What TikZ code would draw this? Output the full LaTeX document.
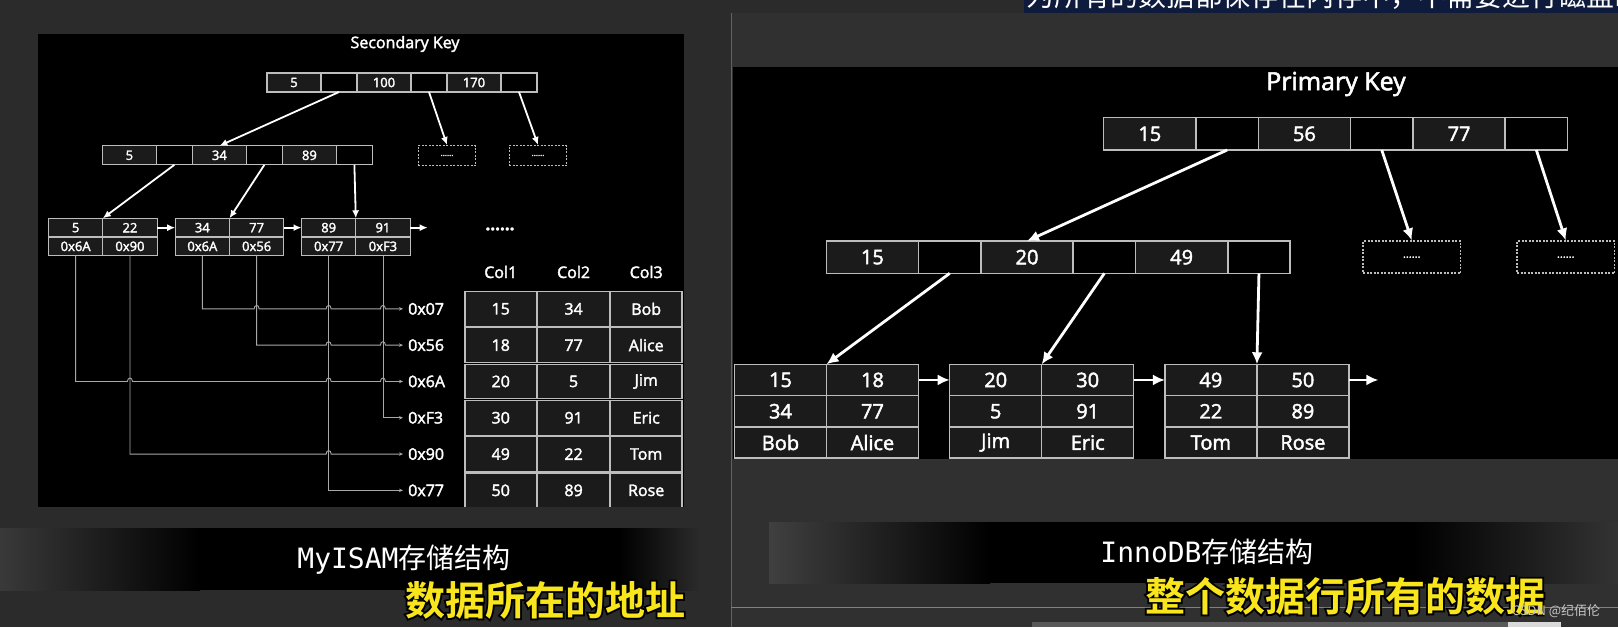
\documentclass[tikz,border=0pt]{standalone}
\usepackage{fontspec}
\setmainfont{Open Sans}[FakeBold=2.2]
\newfontfamily\cjk{Noto Sans CJK SC}
\newfontfamily\cjkb{Noto Sans CJK SC Bold}
\newfontfamily\cjkedge{Noto Sans CJK SC Bold}[FakeBold=9]
\newfontfamily\mono{DejaVu Sans Mono}
\usetikzlibrary{positioning,arrows.meta}
\definecolor{bggray}{HTML}{2B2B2B}
\definecolor{panelgray}{HTML}{303030}
\definecolor{cellline}{HTML}{BDBDBD}
\definecolor{cellfill}{HTML}{1B1B1B}
\definecolor{linkgray}{HTML}{A8A8A8}
\definecolor{edgeblue}{HTML}{2A6DB5}
\definecolor{barblue}{HTML}{1CA0E0}
\definecolor{navy}{HTML}{0E1B3C}
\definecolor{subyellow}{HTML}{F8E51C}

\begin{document}
\begin{tikzpicture}[x=1pt, y=-1pt,
        key/.style={rectangle, draw=cellline, fill=cellfill, line width=1.1pt, minimum width=54pt, minimum height=19pt, inner sep=0pt, outer sep=0pt, text=white, font=\fontsize{13}{13}\selectfont},
        ptr/.style={key, fill=black, minimum width=36pt},
        leaf/.style={key, minimum width=54.3pt, minimum height=18.7pt},
        more/.style={rectangle, draw=cellline, dash pattern=on 2pt off 1.5pt, line width=1.1pt, minimum width=57.6pt, minimum height=20pt, inner sep=0pt, text=white, font=\fontsize{8}{8}\selectfont},
        tcell/.style={rectangle, draw=cellline, fill=cellfill, line width=1.1pt, minimum width=71.5pt, minimum height=34.8pt, inner sep=0pt, text=white, font=\fontsize{16}{16}\selectfont},
        head/.style={text=white, font=\fontsize{16}{16}\selectfont},
        addr/.style={text=white, font=\fontsize{16}{16}\selectfont, anchor=west, inner sep=3pt},
        link/.style={draw=linkgray, line width=0.9pt, -{Stealth[length=4pt,width=3.5pt]}, shorten >=2pt},
        arrow/.style={-{Latex[length=8pt,width=7pt]}, white, line width=1.8pt},
        bigkey/.style={key, line width=1.5pt, minimum width=92.3pt, minimum height=32.3pt, font=\fontsize{20}{20}\selectfont},
        bigptr/.style={bigkey, fill=black, minimum width=62.3pt},
        bigleaf/.style={bigkey, minimum width=92pt, minimum height=31.3pt},
        bigmore/.style={more, line width=1.5pt, minimum width=97.5pt, minimum height=32pt, font=\fontsize{11}{11}\selectfont},
        bigarrow/.style={-{Latex[length=12pt,width=11pt]}, white, line width=2.8pt},
        subtitle/.style={text=subyellow, font=\cjkb\fontsize{40}{40}\selectfont},
        subedge/.style={text=black, font=\cjkedge\fontsize{40}{40}\selectfont}
    ]
    \clip (0,0) rectangle (1618,627);

    % screen background
    \fill[bggray] (0,0) rectangle (1618,627);
    \fill[panelgray] (731,13) rectangle (1618,627);
    \draw[edgeblue, line width=1pt] (731,13) -- (731,627);
    \fill[navy] (1024,0) rectangle (1618,13);
    \node[anchor=base west, inner sep=0pt, text=white, font=\cjk\fontsize{28}{28}\selectfont] (note) at (1026,6) {为所有的数据都保存在内存中，不需要进行磁盘IO};
    \fill[black] (38,34) rectangle (684,507);
    \fill[black] (733,67) rectangle (1618,459);

    % MyISAM: secondary key tree
    \node[text=white, font=\fontsize{16}{16}\selectfont] (skey) at (405,44) {Secondary Key};

    \node[key] (sr1) at (294,82.5) {5};
    \node[ptr, right=0pt of sr1] (sr1p) {};
    \node[key, right=0pt of sr1p] (sr2) {100};
    \node[ptr, right=0pt of sr2] (sr2p) {};
    \node[key, right=0pt of sr2p] (sr3) {170};
    \node[ptr, right=0pt of sr3] (sr3p) {};

    \node[key] (sm1) at (129.4,155.3) {5};
    \node[ptr, right=0pt of sm1] (sm1p) {};
    \node[key, right=0pt of sm1p] (sm2) {34};
    \node[ptr, right=0pt of sm2] (sm2p) {};
    \node[key, right=0pt of sm2p] (sm3) {89};
    \node[ptr, right=0pt of sm3] (sm3p) {};

    \node[more] (sd1) at (447,155.5) {......};
    \node[more] (sd2) at (538,155.5) {......};

    \node[leaf] (sl1a) at (75.65,227.65) {5};
    \node[leaf, right=0pt of sl1a] (sl1b) {22};
    \node[leaf, below=0pt of sl1a] (sl1c) {0x6A};
    \node[leaf, right=0pt of sl1c] (sl1d) {0x90};
    \node[leaf] (sl2a) at (202.35,227.65) {34};
    \node[leaf, right=0pt of sl2a] (sl2b) {77};
    \node[leaf, below=0pt of sl2a] (sl2c) {0x6A};
    \node[leaf, right=0pt of sl2c] (sl2d) {0x56};
    \node[leaf] (sl3a) at (328.65,227.65) {89};
    \node[leaf, right=0pt of sl3a] (sl3b) {91};
    \node[leaf, below=0pt of sl3a] (sl3c) {0x77};
    \node[leaf, right=0pt of sl3c] (sl3d) {0xF3};
    \coordinate (snext) at (427.7,227.65);
    \node[text=white, font=\bfseries\fontsize{17}{17}\selectfont] (sdots) at (500,229) {......};

    \draw[arrow] (sr1p.south) -- (sm2.north);
    \draw[arrow] (sr2p.south) -- (sd1.north);
    \draw[arrow] (sr3p.south) -- (sd2.north);
    \draw[arrow] (sm1p.south) -- (sl1a.north east);
    \draw[arrow] (sm2p.south) -- (sl2a.north east);
    \draw[arrow] (sm3p.south) -- (sl3a.north east);
    \draw[arrow] (sl1b.east) -- (sl2a.west);
    \draw[arrow] (sl2b.east) -- (sl3a.west);
    \draw[arrow] (sl3b.east) -- (snext);

    % MyISAM: data file
    \node[head] (c1) at (500.75,272) {Col1};
    \node[head] (c2) at (573.6,272) {Col2};
    \node[head] (c3) at (646.2,272) {Col3};
    \begin{scope}
        \clip (38,34) rectangle (684,506);
        \node[tcell] (t1a) at (500.75,308.85) {15};
        \node[tcell] (t1b) at (573.6,308.85) {34};
        \node[tcell] (t1c) at (646.2,308.85) {Bob};
        \node[tcell] (t2a) at (500.75,345.15) {18};
        \node[tcell] (t2b) at (573.6,345.15) {77};
        \node[tcell] (t2c) at (646.2,345.15) {Alice};
        \node[tcell] (t3a) at (500.75,381.45) {20};
        \node[tcell] (t3b) at (573.6,381.45) {5};
        \node[tcell] (t3c) at (646.2,381.45) {Jim};
        \node[tcell] (t4a) at (500.75,417.75) {30};
        \node[tcell] (t4b) at (573.6,417.75) {91};
        \node[tcell] (t4c) at (646.2,417.75) {Eric};
        \node[tcell] (t5a) at (500.75,454.05) {49};
        \node[tcell] (t5b) at (573.6,454.05) {22};
        \node[tcell] (t5c) at (646.2,454.05) {Tom};
        \node[tcell] (t6a) at (500.75,490.35) {50};
        \node[tcell] (t6b) at (573.6,490.35) {89};
        \node[tcell] (t6c) at (646.2,490.35) {Rose};
    \end{scope}

    \node[addr] (a07) at (405,308.85) {0x07};
    \node[addr] (a56) at (405,345.15) {0x56};
    \node[addr] (a6A) at (405,381.45) {0x6A};
    \node[addr] (aF3) at (405,417.75) {0xF3};
    \node[addr] (a90) at (405,454.05) {0x90};
    \node[addr] (a77) at (405,490.35) {0x77};

    % address links, hopping over the lines they cross
    \draw[link] (sl2c.south) -- (sl2c.south |- a07.west)
        -- (254.15,308.85) .. controls (254.15,304.3) and (259.15,304.3) .. (259.15,308.85)
        -- (326.15,308.85) .. controls (326.15,304.3) and (331.15,304.3) .. (331.15,308.85)
        -- (380.45,308.85) .. controls (380.45,304.3) and (385.45,304.3) .. (385.45,308.85)
        -- (a07.west);
    \draw[link] (sl2d.south) -- (sl2d.south |- a56.west)
        -- (326.15,345.15) .. controls (326.15,340.6) and (331.15,340.6) .. (331.15,345.15)
        -- (380.45,345.15) .. controls (380.45,340.6) and (385.45,340.6) .. (385.45,345.15)
        -- (a56.west);
    \draw[link] (sl1c.south) -- (sl1c.south |- a6A.west)
        -- (127.45,381.45) .. controls (127.45,376.9) and (132.45,376.9) .. (132.45,381.45)
        -- (326.15,381.45) .. controls (326.15,376.9) and (331.15,376.9) .. (331.15,381.45)
        -- (380.45,381.45) .. controls (380.45,376.9) and (385.45,376.9) .. (385.45,381.45)
        -- (a6A.west);
    \draw[link] (sl3d.south) |- (aF3.west);
    \draw[link] (sl1d.south) -- (sl1d.south |- a90.west)
        -- (326.15,454.05) .. controls (326.15,449.5) and (331.15,449.5) .. (331.15,454.05)
        -- (a90.west);
    \draw[link] (sl3c.south) |- (a77.west);

    % InnoDB: primary key tree
    \node[text=white, font=\fontsize{25}{25}\selectfont] (pkey) at (1336,84) {Primary Key};

    \node[bigkey] (pr1) at (1149.85,133.85) {15};
    \node[bigptr, right=0pt of pr1] (pr1p) {};
    \node[bigkey, right=0pt of pr1p] (pr2) {56};
    \node[bigptr, right=0pt of pr2] (pr2p) {};
    \node[bigkey, right=0pt of pr2p] (pr3) {77};
    \node[bigptr, right=0pt of pr3] (pr3p) {};

    \node[bigkey] (pm1) at (872.45,257.15) {15};
    \node[bigptr, right=0pt of pm1] (pm1p) {};
    \node[bigkey, right=0pt of pm1p] (pm2) {20};
    \node[bigptr, right=0pt of pm2] (pm2p) {};
    \node[bigkey, right=0pt of pm2p] (pm3) {49};
    \node[bigptr, right=0pt of pm3] (pm3p) {};

    \node[bigmore] (pd1) at (1411.75,257.15) {......};
    \node[bigmore] (pd2) at (1565.75,257.15) {......};

    \node[bigleaf] (pl1a) at (780.5,379.95) {15};
    \node[bigleaf, right=0pt of pl1a] (pl1b) {18};
    \node[bigleaf, below=0pt of pl1a] (pl1c) {34};
    \node[bigleaf, right=0pt of pl1c] (pl1d) {77};
    \node[bigleaf, below=0pt of pl1c] (pl1e) {Bob};
    \node[bigleaf, right=0pt of pl1e] (pl1f) {Alice};
    \node[bigleaf] (pl2a) at (995.7,379.95) {20};
    \node[bigleaf, right=0pt of pl2a] (pl2b) {30};
    \node[bigleaf, below=0pt of pl2a] (pl2c) {5};
    \node[bigleaf, right=0pt of pl2c] (pl2d) {91};
    \node[bigleaf, below=0pt of pl2c] (pl2e) {Jim};
    \node[bigleaf, right=0pt of pl2e] (pl2f) {Eric};
    \node[bigleaf] (pl3a) at (1210.9,379.95) {49};
    \node[bigleaf, right=0pt of pl3a] (pl3b) {50};
    \node[bigleaf, below=0pt of pl3a] (pl3c) {22};
    \node[bigleaf, right=0pt of pl3c] (pl3d) {89};
    \node[bigleaf, below=0pt of pl3c] (pl3e) {Tom};
    \node[bigleaf, right=0pt of pl3e] (pl3f) {Rose};
    \coordinate (pnext) at (1378.4,379.95);

    \draw[bigarrow] (pr1p.south) -- (pm2.north);
    \draw[bigarrow] (pr2p.south) -- (pd1.north);
    \draw[bigarrow] (pr3p.south) -- (pd2.north);
    \draw[bigarrow] (pm1p.south) -- (pl1a.north east);
    \draw[bigarrow] (pm2p.south) -- (pl2a.north east);
    \draw[bigarrow] (pm3p.south) -- (pl3a.north east);
    \draw[bigarrow] (pl1b.east) -- (pl2a.west);
    \draw[bigarrow] (pl2b.east) -- (pl3a.west);
    \draw[bigarrow] (pl3b.east) -- (pnext);

    % caption bands
    \fill[left color=gray!45!black, right color=black] (0,528) rectangle (200,590);
    \fill[black] (199,528) rectangle (621,590);
    \fill[left color=black, right color=bggray] (620,528) rectangle (700,590);
    \fill[left color=gray!50!black, right color=black] (769,522) rectangle (990,583);
    \fill[black] (989,522) rectangle (1413,583);
    \fill[left color=black, right color=gray!40!black] (1412,522) rectangle (1618,583);

    \node[text=white, font=\fontsize{28}{28}\selectfont] (capmy) at (404,560) {\mono MyISAM\cjk 存储结构};
    \node[text=white, font=\fontsize{28}{28}\selectfont] (capinno) at (1207,552) {\mono InnoDB\cjk 存储结构};

    % player bar
    \draw[barblue, line width=1.5pt] (731,607.5) -- (1264,607.5);
    \draw[gray, line width=1.2pt] (1264,607.5) -- (1618,607.5);
    \fill[gray!70!black] (1032,622) rectangle (1508,627);
    \fill[gray!30] (1508,622) rectangle (1561,627);

    % yellow subtitles over a black edge
    \node[subedge] (submyedge) at (545,600) {数据所在的地址};
    \node[subtitle] (submy) at (submyedge) {数据所在的地址};
    \node[subedge] (subinnoedge) at (1345,596) {整个数据行所有的数据};
    \node[subtitle] (subinno) at (subinnoedge) {整个数据行所有的数据};
    \node[text=gray!45!white, font=\cjk\fontsize{13}{13}\selectfont] (mark) at (1556,611) {CSDN @纪佰伦};
\end{tikzpicture}
\end{document}
